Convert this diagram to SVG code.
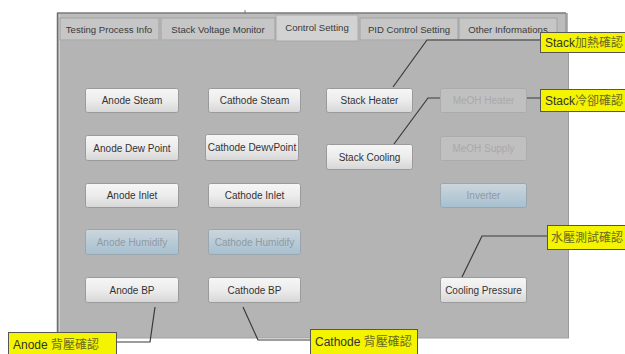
<svg xmlns="http://www.w3.org/2000/svg" width="625" height="354" viewBox="0 0 625 354">
  <defs>
    <linearGradient id="btnFace" x1="0" y1="0" x2="0" y2="1">
      <stop offset="0" stop-color="#f6f6f6"/>
      <stop offset="0.5" stop-color="#ececec"/>
      <stop offset="1" stop-color="#d6d6d6"/>
    </linearGradient>
    <linearGradient id="btnBlue" x1="0" y1="0" x2="0" y2="1">
      <stop offset="0" stop-color="#ccd6dd"/>
      <stop offset="1" stop-color="#a6bfcf"/>
    </linearGradient>
    <style>
      .ui { font-family: "Liberation Sans", Arial, sans-serif; }
      .tab { fill: #c6c6c6; stroke: #a2a2a2; stroke-width: 1; }
      .tabsel { fill: #d2d2d2; stroke: #a8a8a8; stroke-width: 1; }
      .tabtxt { font-size: 9.6px; fill: #3a3a3a; text-anchor: middle; }
      .btn rect { fill: url(#btnFace); stroke: #9a9a9a; stroke-width: 1; }
      .btn text { font-size: 10px; fill: #333; text-anchor: middle; }
      .off rect { fill: #c0c0c0; stroke: #ababab; stroke-width: 1; }
      .off text { font-size: 10px; fill: #a9a9a9; text-anchor: middle; }
      .blue rect { fill: url(#btnBlue); stroke: #9aa6ae; stroke-width: 1; }
      .blue text { font-size: 10px; fill: #8d9ba6; text-anchor: middle; }
      .note rect { fill: #f4f400; stroke: #555; stroke-width: 1; }
      .note text { font-size: 12px; fill: #333; }
      .cjk { font-family: "Liberation Sans", "Noto Sans CJK TC", sans-serif; fill: #6a6a20; }
      .lead { stroke: #3a3a3a; stroke-width: 1.2; fill: none; }
    </style>
  </defs>

  <rect x="0" y="0" width="625" height="354" fill="#ffffff"/>

  <!-- window panel -->
  <g id="panel">
    <rect x="57" y="13" width="511" height="325" fill="#b4b4b4"/>
    <rect x="57" y="13" width="509" height="28" fill="#bcbcbc"/>
    <line x1="57" y1="13" x2="566" y2="13" stroke="#7a7a7a" stroke-width="1.5"/>
    <line x1="245" y1="10" x2="245" y2="14" stroke="#7a7a7a" stroke-width="1"/>
    <line x1="57.5" y1="13" x2="57.5" y2="338" stroke="#6e6e6e" stroke-width="1.5"/>
    <line x1="59.5" y1="14" x2="59.5" y2="338" stroke="#d0d0d0" stroke-width="1"/>
    <line x1="566" y1="13" x2="566" y2="40" stroke="#8a8a8a" stroke-width="1"/>
    <line x1="568.5" y1="40" x2="568.5" y2="338" stroke="#9a9a9a" stroke-width="1"/>
    <line x1="57" y1="338" x2="569" y2="338" stroke="#a0a0a0" stroke-width="1"/>
  </g>

  <!-- tab strip -->
  <g id="tabs" class="ui">
    <rect class="tab" x="60" y="18" width="99" height="22"/>
    <text class="tabtxt" x="109" y="32.5">Testing Process Info</text>
    <rect class="tab" x="161" y="18" width="114" height="22"/>
    <text class="tabtxt" x="218" y="32.5">Stack Voltage Monitor</text>
    <rect class="tabsel" x="276" y="15" width="82" height="26"/>
    <text class="tabtxt" x="317" y="31">Control Setting</text>
    <rect class="tab" x="360" y="18" width="98" height="22"/>
    <text class="tabtxt" x="409" y="32.5">PID Control Setting</text>
    <rect class="tab" x="459" y="18" width="98" height="22"/>
    <text class="tabtxt" x="508" y="32.5">Other Informations</text>
  </g>

  <!-- connectors from callouts to buttons -->
  <g id="connectors">
    <polyline class="lead" points="393,87 427,40 541,40"/>
    <polyline class="lead" points="394,144 428,98 541,98"/>
    <polyline class="lead" points="462,277 482,236 548,236"/>
    <polyline class="lead" points="155,307 150,342 117,342"/>
    <polyline class="lead" points="243,307 258,340 310,340"/>
  </g>

  <!-- column 1 -->
  <g id="anode-steam" class="btn ui"><rect x="85.5" y="88.5" width="93" height="24" rx="2"/><text x="132" y="104">Anode Steam</text></g>
  <g id="anode-dew-point" class="btn ui"><rect x="85.5" y="135.5" width="93" height="25" rx="2"/><text x="132" y="151.5">Anode Dew Point</text></g>
  <g id="anode-inlet" class="btn ui"><rect x="85.5" y="183.5" width="93" height="24" rx="2"/><text x="132" y="199">Anode  Inlet</text></g>
  <g id="anode-humidify" class="blue ui"><rect x="85.5" y="229.5" width="93" height="25" rx="2"/><text x="132" y="245.5">Anode Humidify</text></g>
  <g id="anode-bp" class="btn ui"><rect x="85.5" y="277.5" width="93" height="25" rx="2"/><text x="132" y="293.5">Anode BP</text></g>

  <!-- column 2 -->
  <g id="cathode-steam" class="btn ui"><rect x="208.5" y="88.5" width="92" height="24" rx="2"/><text x="254.5" y="104">Cathode Steam</text></g>
  <g id="cathode-dew-point" class="btn ui"><rect x="205.5" y="134.5" width="93" height="26" rx="2"/><text x="252" y="151">Cathode DewvPoint</text></g>
  <g id="cathode-inlet" class="btn ui"><rect x="208.5" y="183.5" width="92" height="24" rx="2"/><text x="254.5" y="199">Cathode Inlet</text></g>
  <g id="cathode-humidify" class="blue ui"><rect x="208.5" y="229.5" width="92" height="25" rx="2"/><text x="254.5" y="245.5">Cathode Humidify</text></g>
  <g id="cathode-bp" class="btn ui"><rect x="208.5" y="277.5" width="92" height="25" rx="2"/><text x="254.5" y="293.5">Cathode BP</text></g>

  <!-- column 3 -->
  <g id="stack-heater" class="btn ui"><rect x="326.5" y="88.5" width="86" height="24" rx="2"/><text x="369.5" y="104">Stack Heater</text></g>
  <g id="stack-cooling" class="btn ui"><rect x="326.5" y="144.5" width="86" height="25" rx="2"/><text x="369.5" y="160.5">Stack Cooling</text></g>

  <!-- column 4 -->
  <g id="meoh-heater" class="off ui"><rect x="440.5" y="88.5" width="86" height="24" rx="2"/><text x="483.5" y="104">MeOH Heater</text></g>
  <g id="meoh-supply" class="off ui"><rect x="440.5" y="136.5" width="86" height="24" rx="2"/><text x="483.5" y="152">MeOH Supply</text></g>
  <g id="inverter" class="blue ui"><rect x="440.5" y="183.5" width="86" height="24" rx="2"/><text x="483.5" y="199">Inverter</text></g>
  <g id="cooling-pressure" class="btn ui"><rect x="440.5" y="277.5" width="86" height="25" rx="2"/><text x="483.5" y="293.5">Cooling Pressure</text></g>

  <!-- yellow callouts -->
  <g id="note-stack-heat" class="note ui"><rect x="540.5" y="32.5" width="90" height="20"/><text x="545" y="47">Stack<tspan class="cjk">加熱確認</tspan></text></g>
  <g id="note-stack-cool" class="note ui"><rect x="540.5" y="89.5" width="90" height="22"/><text x="545" y="105">Stack<tspan class="cjk">冷卻確認</tspan></text></g>
  <g id="note-water-pressure" class="note ui"><rect x="547.5" y="225.5" width="82" height="24"/><text x="551" y="242"><tspan class="cjk">水壓測試確認</tspan></text></g>
  <g id="note-anode-bp" class="note ui"><rect x="8.5" y="332.5" width="108" height="26"/><text x="13" y="349">Anode <tspan class="cjk">背壓確認</tspan></text></g>
  <g id="note-cathode-bp" class="note ui"><rect x="310.5" y="329.5" width="107" height="28"/><text x="315" y="346">Cathode <tspan class="cjk">背壓確認</tspan></text></g>
</svg>
